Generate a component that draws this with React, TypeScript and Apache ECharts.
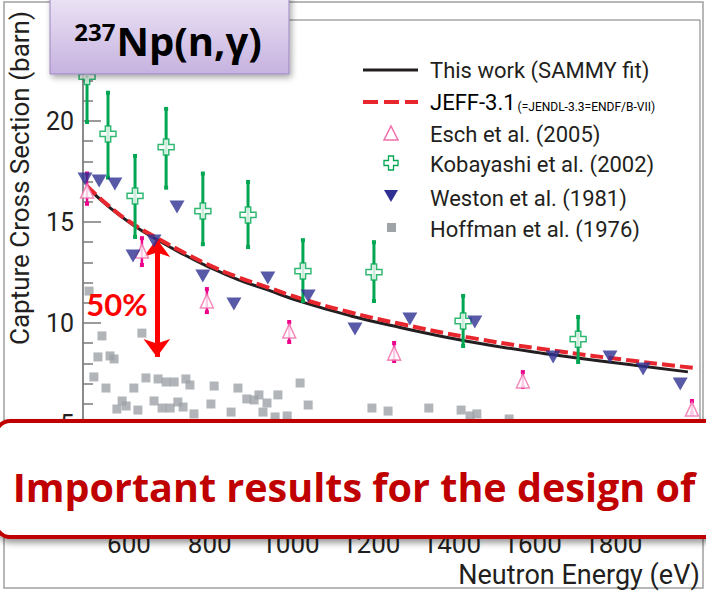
import React, { useEffect, useRef } from "react";
import * as echarts from "echarts";

// ---- axis ticks ----
const xTickLabels = [600, 800, 1000, 1200, 1400, 1600, 1800];
const yMin = 0;
const yMax = 25;
const yInterval = 5;
const xMin = 486;
const xMax = 2015;

// ---- This work (SAMMY fit) ----
const thisWorkE = [495, 550, 610, 670, 730, 793, 870, 942, 1024, 1150, 1272, 1438, 1643, 1849, 1985];
const thisWorkS = [16.75, 15.75, 14.85, 14.12, 13.45, 12.82, 12.15, 11.65, 11.07, 10.35, 9.78, 9.1, 8.45, 7.92, 7.58];

// ---- JEFF-3.1 ----
const jeffE = [495, 550, 610, 670, 730, 793, 870, 942, 1024, 1150, 1272, 1438, 1643, 1849, 2010];
const jeffS = [16.8, 15.8, 14.9, 14.2, 13.55, 12.92, 12.27, 11.78, 11.22, 10.52, 9.96, 9.3, 8.66, 8.13, 7.75];

// ---- Esch et al. (2005) ----
const eschE = [496, 632, 793, 997, 1257, 1576, 1995];
const eschS = [16.53, 13.56, 11.09, 9.6, 8.51, 7.13, 5.74];
const eschLo = [15.9, 12.87, 10.54, 9.06, 8.12, 6.83, 5.54];
const eschHi = [17.4, 14.2, 11.68, 10.05, 9.01, 7.57, 6.14];

// ---- Kobayashi et al. (2002) ----
const kobE = [496, 548, 615, 692, 783, 895, 1031, 1207, 1428, 1713];
const kobS = [22.2, 19.36, 16.29, 18.71, 15.54, 15.35, 12.57, 12.52, 10.1, 9.2];
const kobLo = [19.95, 17.2, 14.26, 16.7, 13.9, 13.76, 11.09, 11.09, 8.86, 8.07];
const kobHi = [24.4, 21.4, 18.27, 20.6, 17.4, 16.98, 14.1, 14.0, 11.34, 10.3];

// ---- Weston et al. (1981) ----
const westonE = [491, 526, 565, 610, 662, 719, 783, 860, 944, 1044, 1160, 1296, 1457, 1651, 1792, 1874, 1966];
const westonS = [17.13, 17.03, 16.88, 13.32, 14.06, 15.74, 12.33, 10.94, 12.23, 11.34, 9.7, 10.2, 10.05, 8.32, 8.32, 7.72, 6.98];

// ---- Hoffman et al. (1976) ----
const hoffE = [501, 533, 632, 523, 553, 563, 513, 543, 612, 642, 672, 692, 712, 741, 751, 811, 870, 570, 583, 593, 622, 662, 682, 702, 721, 734, 761, 803, 853, 892, 910, 922, 932, 942, 969, 962, 992, 1024, 1044, 1202, 1242, 1343, 1423, 1445, 1462, 1542];
const hoffS = [11.58, 9.36, 9.5, 8.32, 8.37, 8.22, 7.33, 6.78, 6.78, 7.28, 7.23, 7.08, 7.08, 7.23, 6.93, 6.88, 6.78, 5.74, 6.14, 5.89, 5.69, 6.14, 5.79, 5.79, 6.09, 5.84, 5.5, 5.99, 5.59, 6.24, 6.19, 6.44, 5.59, 6.04, 6.44, 5.35, 5.4, 7.03, 5.94, 5.79, 5.64, 5.79, 5.69, 5.4, 5.5, 5.25];

// ---- 50% arrow annotation ----
const arrowE = 669;
const arrowTop = 14.16;
const arrowBottom = 8.32;

const AXIS_FONT = "Roboto";
const TEXT_COLOR = "#231f20";
const RED = "#c00000";

const crossPath =
  "path://M-1,-3 L1,-3 L1,-1 L3,-1 L3,1 L1,1 L1,3 L-1,3 L-1,1 L-3,1 L-3,-1 L-1,-1 Z";

function errRender(color: string, width: number, cap: number) {
  return (_params: any, api: any) => {
    const x = api.value(0);
    const top = api.coord([x, api.value(2)]);
    const bot = api.coord([x, api.value(1)]);
    return {
      type: "group",
      children: [
        {
          type: "line",
          shape: { x1: top[0], y1: top[1], x2: bot[0], y2: bot[1] },
          style: { stroke: color, lineWidth: width },
        },
        {
          type: "rect",
          shape: { x: top[0] - cap / 2, y: top[1] - cap / 2, width: cap, height: cap },
          style: { fill: color },
        },
        {
          type: "rect",
          shape: { x: bot[0] - cap / 2, y: bot[1] - cap / 2, width: cap, height: cap },
          style: { fill: color },
        },
      ],
    };
  };
}

export default function App() {
  const ref = useRef<HTMLDivElement>(null);

  useEffect(() => {
    if (!ref.current) return;
    const chart = echarts.init(ref.current, null, { renderer: "svg" });

    const legendX = 430;
    const legendFont = { fontFamily: AXIS_FONT, fontSize: 22, fill: TEXT_COLOR };
    const TOP = 100;

    const option: any = {
      animation: false,
      backgroundColor: "#ffffff",
      grid: {
        left: 83,
        top: 20,
        right: 6,
        bottom: 67,
        show: true,
        borderColor: "#7a7a7a",
        borderWidth: 1,
        backgroundColor: "transparent",
      },
      xAxis: {
        type: "value",
        min: xMin,
        max: xMax,
        axisLine: { show: true, lineStyle: { color: "#7a7a7a" } },
        axisTick: { show: false },
        splitLine: { show: false },
        axisLabel: {
          customValues: xTickLabels,
          formatter: (v: number) => String(v),
          fontFamily: AXIS_FONT,
          fontSize: 26,
          color: TEXT_COLOR,
          margin: 6,
        },
      },
      yAxis: {
        type: "value",
        min: yMin,
        max: yMax,
        interval: yInterval,
        axisLine: { show: true, lineStyle: { color: "#7a7a7a", width: 1.5 } },
        axisTick: { show: true, inside: true, length: 18, lineStyle: { color: "#7a7a7a", width: 1.5 } },
        minorTick: { show: true, splitNumber: 5, length: 10, lineStyle: { color: "#7a7a7a", width: 1.5 } },
        splitLine: { show: false },
        axisLabel: {
          showMinLabel: false,
          showMaxLabel: false,
          fontFamily: AXIS_FONT,
          fontSize: 25,
          color: TEXT_COLOR,
          margin: 9,
        },
      },
      series: [
        {
          name: "This work (SAMMY fit)",
          type: "line",
          data: thisWorkE.map((e, i) => [e, thisWorkS[i]]),
          showSymbol: false,
          smooth: true,
          z: 3,
          lineStyle: { color: TEXT_COLOR, width: 3 },
          markLine: {
            silent: true,
            symbol: ["arrow", "arrow"],
            symbolSize: [20, 18],
            lineStyle: { color: "#ff0000", width: 5, type: "solid" },
            label: { show: false },
            data: [[{ coord: [arrowE, arrowTop] }, { coord: [arrowE, arrowBottom] }]],
          },
        },
        {
          name: "JEFF-3.1",
          type: "line",
          data: jeffE.map((e, i) => [e, jeffS[i]]),
          showSymbol: false,
          smooth: true,
          z: 4,
          lineStyle: { color: "#e8262d", width: 4, type: [13, 5] },
        },
        {
          name: "Hoffman et al. (1976)",
          type: "scatter",
          data: hoffE.map((e, i) => [e, hoffS[i]]),
          symbol: "rect",
          symbolSize: 9,
          z: 2,
          itemStyle: { color: "#9ea3a8" },
        },
        {
          name: "Kobayashi err",
          type: "custom",
          renderItem: errRender("#00a651", 3, 4),
          data: kobE.map((e, i) => [e, kobLo[i], kobHi[i]]),
          encode: { x: 0, y: [1, 2] },
          z: 5,
        },
        {
          name: "Kobayashi et al. (2002)",
          type: "scatter",
          data: kobE.map((e, i) => [e, kobS[i]]),
          symbol: crossPath,
          symbolSize: 16,
          z: 6,
          itemStyle: { color: "#ffffff", borderColor: "#00a651", borderWidth: 1.5 },
        },
        {
          name: "Esch err",
          type: "custom",
          renderItem: errRender("#ec008c", 2.5, 4),
          data: eschE.map((e, i) => [e, eschLo[i], eschHi[i]]),
          encode: { x: 0, y: [1, 2] },
          z: 5,
        },
        {
          name: "Esch et al. (2005)",
          type: "scatter",
          data: eschE.map((e, i) => [e, eschS[i]]),
          symbol: "triangle",
          symbolSize: [13, 14],
          z: 6,
          itemStyle: { color: "#ffffff", borderColor: "#f06eaa", borderWidth: 1.5 },
        },
        {
          name: "Weston et al. (1981)",
          type: "scatter",
          data: westonE.map((e, i) => [e, westonS[i]]),
          symbol: "triangle",
          symbolRotate: 180,
          symbolSize: [15, 13],
          z: 7,
          itemStyle: { color: "#2e3192" },
        },
      ],
      graphic: [
        // outer picture frame
        {
          type: "rect",
          z: 1,
          silent: true,
          shape: { x: 4, y: 2, width: 699, height: 586 },
          style: { fill: "none", stroke: "#a0a0a0", lineWidth: 1.5 },
        },
        // y axis name
        {
          type: "text",
          z: 10,
          x: 20,
          y: 178,
          rotation: Math.PI / 2,
          style: {
            text: "Capture Cross Section (barn)",
            fontFamily: AXIS_FONT,
            fontSize: 26,
            fill: TEXT_COLOR,
            align: "center",
            verticalAlign: "middle",
          },
        },
        // x axis name
        {
          type: "text",
          z: 10,
          x: 700,
          y: 575,
          style: {
            text: "Neutron Energy (eV)",
            fontFamily: AXIS_FONT,
            fontSize: 27,
            fill: TEXT_COLOR,
            align: "right",
            verticalAlign: "middle",
          },
        },
        // 50% label
        {
          type: "text",
          z: 10,
          x: 117,
          y: 304,
          style: {
            text: "50%",
            fontFamily: "Lato",
            fontWeight: "bold",
            fontSize: 31,
            fill: "#ff0000",
            align: "center",
            verticalAlign: "middle",
          },
        },
        // legend
        { type: "line", z: 10, shape: { x1: 363, y1: 70, x2: 418, y2: 70 }, style: { stroke: TEXT_COLOR, lineWidth: 3 } },
        { type: "text", z: 10, x: legendX, y: 70, style: { ...legendFont, text: "This work (SAMMY fit)", verticalAlign: "middle" } },
        { type: "line", z: 10, shape: { x1: 363, y1: 102, x2: 418, y2: 102 }, style: { stroke: "#e8262d", lineWidth: 4, lineDash: [15, 6] } },
        {
          type: "text",
          z: 10,
          x: legendX,
          y: 102,
          style: {
            text: "{a|JEFF-3.1}{b|(=JENDL-3.3=ENDF/B-VII)}",
            verticalAlign: "middle",
            rich: {
              a: { fontFamily: AXIS_FONT, fontSize: 22, color: TEXT_COLOR },
              b: { fontFamily: AXIS_FONT, fontSize: 12, color: TEXT_COLOR, verticalAlign: "bottom", padding: [6, 0, 0, 2] },
            },
          },
        },
        {
          type: "polygon",
          z: 10,
          shape: { points: [[391, 126], [398, 140], [384, 140]] },
          style: { fill: "#ffffff", stroke: "#f06eaa", lineWidth: 1.5 },
        },
        { type: "text", z: 10, x: legendX, y: 134, style: { ...legendFont, text: "Esch et al. (2005)", verticalAlign: "middle" } },
        {
          type: "polygon",
          z: 10,
          shape: {
            points: [
              [388.5, 156], [393.5, 156], [393.5, 160.5], [398, 160.5], [398, 165.5], [393.5, 165.5],
              [393.5, 170], [388.5, 170], [388.5, 165.5], [384, 165.5], [384, 160.5], [388.5, 160.5],
            ],
          },
          style: { fill: "#ffffff", stroke: "#00a651", lineWidth: 1.3 },
        },
        { type: "text", z: 10, x: legendX, y: 164, style: { ...legendFont, text: "Kobayashi et al. (2002)", verticalAlign: "middle" } },
        {
          type: "polygon",
          z: 10,
          shape: { points: [[384, 190], [398, 190], [391, 202]] },
          style: { fill: "#2e3192" },
        },
        { type: "text", z: 10, x: legendX, y: 198, style: { ...legendFont, text: "Weston et al. (1981)", verticalAlign: "middle" } },
        { type: "rect", z: 10, shape: { x: 387, y: 223, width: 9, height: 9 }, style: { fill: "#9ea3a8" } },
        { type: "text", z: 10, x: legendX, y: 229, style: { ...legendFont, text: "Hoffman et al. (1976)", verticalAlign: "middle" } },
        // title box
        {
          type: "rect",
          z: TOP,
          shape: { x: 50, y: -6, width: 239, height: 80 },
          style: {
            fill: new echarts.graphic.LinearGradient(0, 0, 0, 1, [
              { offset: 0, color: "#ede5f6" },
              { offset: 1, color: "#c6b2df" },
            ]),
            stroke: "#9b86bf",
            lineWidth: 1,
            shadowBlur: 6,
            shadowOffsetX: 2,
            shadowOffsetY: 3,
            shadowColor: "rgba(0,0,0,0.35)",
          },
        },
        {
          type: "text",
          z: TOP + 1,
          x: 168,
          y: 40,
          style: {
            text: "{s|237}{m|Np(n,γ)}",
            align: "center",
            verticalAlign: "middle",
            rich: {
              s: { fontFamily: "Open Sans", fontWeight: "bold", fontSize: 24, color: "#000000", verticalAlign: "top", padding: [0, 1, 17, 0] },
              m: { fontFamily: "Open Sans", fontWeight: "bold", fontSize: 40, color: "#000000" },
            },
          },
        },
        // red callout box
        {
          type: "rect",
          z: TOP,
          shape: { x: -4, y: 421, width: 730, height: 116, r: 14 },
          style: {
            fill: "#ffffff",
            stroke: RED,
            lineWidth: 4,
            shadowBlur: 6,
            shadowOffsetX: 1,
            shadowOffsetY: 4,
            shadowColor: "rgba(0,0,0,0.4)",
          },
        },
        {
          type: "text",
          z: TOP + 1,
          x: 354,
          y: 487,
          style: {
            text: "Important results for the design of",
            fontFamily: "Open Sans",
            fontWeight: "bold",
            fontSize: 39.5,
            fill: RED,
            align: "center",
            verticalAlign: "middle",
          },
        },
      ],
    };

    chart.setOption(option);
    return () => chart.dispose();
  }, []);

  return (
    <div
      ref={ref}
      style={{ position: "fixed", left: 0, top: 0, width: 706, height: 592, background: "#ffffff" }}
    />
  );
}
